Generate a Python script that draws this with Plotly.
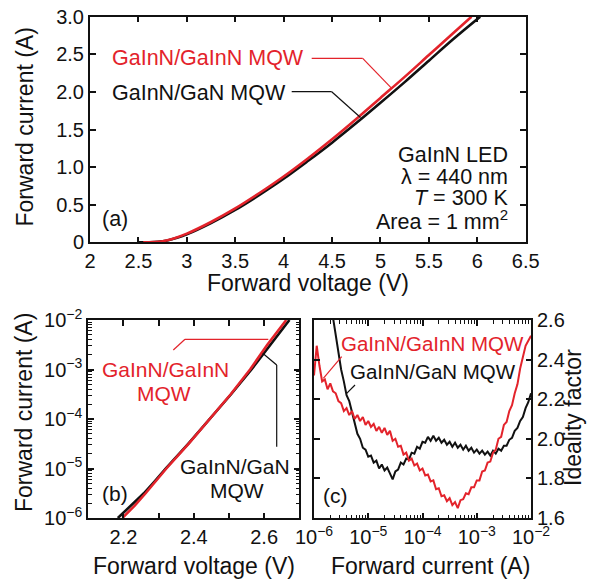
import plotly.graph_objects as go

# ---------------- data ----------------
# (a) linear I-V
v_red_a = [2.55, 2.65, 2.75, 2.85, 3.00, 3.25, 3.50, 3.75, 4.00, 4.25, 4.50, 4.75, 5.00, 5.25, 5.50, 5.75, 5.94]
i_red_a = [0.000, 0.003, 0.015, 0.045, 0.115, 0.27, 0.45, 0.655, 0.875, 1.115, 1.37, 1.64, 1.92, 2.20, 2.49, 2.78, 3.00]
v_blk_a = [2.50, 2.60, 2.70, 2.80, 2.90, 3.00, 3.25, 3.50, 3.75, 4.00, 4.25, 4.50, 4.75, 5.00, 5.25, 5.50, 5.75, 6.03]
i_blk_a = [0.000, 0.001, 0.006, 0.025, 0.06, 0.105, 0.255, 0.43, 0.63, 0.845, 1.08, 1.325, 1.585, 1.855, 2.13, 2.415, 2.70, 3.00]

# (b) semilog I-V
i_b = [1e-6, 1.78e-6, 3.16e-6, 5.62e-6, 1e-5, 3.16e-5, 1e-4, 3.16e-4, 1e-3, 3.16e-3, 1e-2]
v_red_b = [2.197, 2.232, 2.263, 2.293, 2.322, 2.385, 2.446, 2.505, 2.560, 2.609, 2.663]
v_blk_b = [2.184, 2.222, 2.258, 2.290, 2.320, 2.384, 2.446, 2.506, 2.564, 2.617, 2.672]

# (c) ideality factor vs current (log10 of current)
log_i_red_c = [-6.00, -5.95, -5.90, -5.85, -5.80, -5.75, -5.70, -5.65, -5.60, -5.55,
               -5.50, -5.45, -5.40, -5.35, -5.30, -5.25, -5.20, -5.15, -5.10, -5.05,
               -5.00, -4.95, -4.90, -4.85, -4.80, -4.75, -4.70, -4.65, -4.60, -4.55,
               -4.50, -4.45, -4.40, -4.35, -4.30, -4.25, -4.20, -4.15, -4.10, -4.05,
               -4.00, -3.95, -3.90, -3.85, -3.80, -3.75, -3.70, -3.65, -3.60, -3.55,
               -3.50, -3.45, -3.40, -3.35, -3.30, -3.25, -3.20, -3.15, -3.10, -3.05,
               -3.00, -2.95, -2.90, -2.85, -2.80, -2.75, -2.70, -2.65, -2.60, -2.55,
               -2.50, -2.45, -2.40, -2.35, -2.30, -2.25, -2.20, -2.15, -2.10, -2.05, -2.00]
n_red_c = [2.32, 2.47, 2.37, 2.29, 2.30, 2.25, 2.28, 2.24, 2.23, 2.19,
           2.18, 2.14, 2.155, 2.12, 2.14, 2.10, 2.12, 2.09, 2.11, 2.07,
           2.09, 2.06, 2.075, 2.04, 2.06, 2.03, 2.055, 2.02, 2.04, 1.99,
           2.00, 1.96, 1.965, 1.92, 1.93, 1.89, 1.90, 1.865, 1.875, 1.84,
           1.85, 1.815, 1.82, 1.785, 1.79, 1.745, 1.75, 1.71, 1.715, 1.685,
           1.70, 1.665, 1.68, 1.65, 1.69, 1.695, 1.725, 1.72, 1.755, 1.755,
           1.79, 1.79, 1.835, 1.84, 1.88, 1.885, 1.93, 1.945, 2.00, 2.01,
           2.07, 2.085, 2.14, 2.17, 2.23, 2.275, 2.355, 2.415, 2.47, 2.495, 2.52]
log_i_blk_c = [-5.70, -5.65, -5.60, -5.55,
               -5.50, -5.45, -5.40, -5.35, -5.30, -5.25, -5.20, -5.15, -5.10, -5.05,
               -5.00, -4.95, -4.90, -4.85, -4.80, -4.75, -4.70, -4.65, -4.60, -4.55,
               -4.50, -4.45, -4.40, -4.35, -4.30, -4.25, -4.20, -4.15, -4.10, -4.05,
               -4.00, -3.95, -3.90, -3.85, -3.80, -3.75, -3.70, -3.65, -3.60, -3.55,
               -3.50, -3.45, -3.40, -3.35, -3.30, -3.25, -3.20, -3.15, -3.10, -3.05,
               -3.00, -2.95, -2.90, -2.85, -2.80, -2.75, -2.70, -2.65, -2.60, -2.55,
               -2.50, -2.45, -2.40, -2.35, -2.30, -2.25, -2.20, -2.15, -2.10, -2.05, -2.00]
n_blk_c = [2.70, 2.61, 2.52, 2.445,
           2.35, 2.29, 2.22, 2.19, 2.13, 2.085, 2.025, 2.00, 1.955, 1.945,
           1.91, 1.915, 1.88, 1.89, 1.85, 1.87, 1.84, 1.855, 1.82, 1.795,
           1.835, 1.845, 1.88, 1.87, 1.90, 1.895, 1.93, 1.925, 1.96, 1.95,
           1.985, 1.98, 2.01, 1.99, 2.015, 1.99, 2.005, 1.98, 1.995, 1.97,
           1.985, 1.96, 1.98, 1.955, 1.97, 1.945, 1.965, 1.94, 1.955, 1.93,
           1.945, 1.925, 1.94, 1.92, 1.935, 1.915, 1.94, 1.925, 1.95, 1.94,
           1.965, 1.965, 1.995, 2.005, 2.04, 2.055, 2.09, 2.11, 2.155, 2.185, 2.23]

tick_a_x = [2, 2.5, 3, 3.5, 4, 4.5, 5, 5.5, 6, 6.5]
tick_a_x_text = ["2", "2.5", "3", "3.5", "4", "4.5", "5", "5.5", "6", "6.5"]
tick_a_y = [0, 0.5, 1.0, 1.5, 2.0, 2.5, 3.0]
tick_a_y_text = ["0", "0.5", "1.0", "1.5", "2.0", "2.5", "3.0"]
tick_b_x = [2.2, 2.4, 2.6]
tick_b_x_text = ["2.2", "2.4", "2.6"]
tick_b_x_minor = [2.1, 2.3, 2.5, 2.7]
tick_log = [1e-6, 1e-5, 1e-4, 1e-3, 1e-2]
tick_log_text = ["10<sup>\u22126</sup>", "10<sup>\u22125</sup>", "10<sup>\u22124</sup>",
                 "10<sup>\u22123</sup>", "10<sup>\u22122</sup>"]
tick_log_minor = [k * 10.0 ** e for e in (-6, -5, -4, -3) for k in range(2, 10)]
tick_c_y = [1.6, 1.8, 2.0, 2.2, 2.4, 2.6]
tick_c_y_text = ["1.6", "1.8", "2.0", "2.2", "2.4", "2.6"]

RED = "#e3232b"
BLK = "#111111"
FONT = "Liberation Sans, Arial, sans-serif"
PAGE_W, PAGE_H = 595, 580
OFF = 8  # page body margin
W, H = PAGE_W - OFF, PAGE_H - OFF


def px(x):
    return (x - OFF) / W


def py(y):
    return 1 - (y - OFF) / H


fig = go.Figure()
fig.add_trace(go.Scatter(x=v_blk_a, y=i_blk_a, mode="lines", line=dict(color=BLK, width=2.6),
                         xaxis="x", yaxis="y", line_shape="spline"))
fig.add_trace(go.Scatter(x=v_red_a, y=i_red_a, mode="lines", line=dict(color=RED, width=2.6),
                         xaxis="x", yaxis="y", line_shape="spline"))
fig.add_trace(go.Scatter(x=v_blk_b, y=i_b, mode="lines", line=dict(color=BLK, width=2.6),
                         xaxis="x2", yaxis="y2"))
fig.add_trace(go.Scatter(x=v_red_b, y=i_b, mode="lines", line=dict(color=RED, width=2.6),
                         xaxis="x2", yaxis="y2"))
fig.add_trace(go.Scatter(x=[10 ** v for v in log_i_blk_c], y=n_blk_c, mode="lines",
                         line=dict(color=BLK, width=2), xaxis="x3", yaxis="y3"))
fig.add_trace(go.Scatter(x=[10 ** v for v in log_i_red_c], y=n_red_c, mode="lines",
                         line=dict(color=RED, width=2), xaxis="x3", yaxis="y3"))

tickfont = dict(family=FONT, size=20, color="#111")
common = dict(showline=True, linewidth=2, linecolor="#111", mirror="ticks", ticks="inside",
              ticklen=5.5, tickwidth=1.5, tickcolor="#111", showgrid=False, zeroline=False,
              tickfont=tickfont, fixedrange=True, automargin=False, ticklabeloverflow="allow")
minor_log = dict(tickmode="array", tickvals=tick_log_minor, ticks="inside", ticklen=3.5,
                 tickwidth=1, tickcolor="#111", showgrid=False)

fig.update_layout(
    width=W, height=H, margin=dict(l=0, r=0, t=0, b=0), autosize=False,
    paper_bgcolor="white", plot_bgcolor="white", showlegend=False,
    xaxis=dict(domain=[px(90), px(525.7)], range=[2, 6.5], tickvals=tick_a_x, ticktext=tick_a_x_text,
               anchor="y", **common),
    yaxis=dict(domain=[py(242.3), py(16.7)], range=[0, 3], tickvals=tick_a_y, ticktext=tick_a_y_text,
               anchor="x", **common),
    xaxis2=dict(domain=[px(88.3), px(299.3)], range=[2.1, 2.7], tickvals=tick_b_x, ticktext=tick_b_x_text,
                minor=dict(tickmode="array", tickvals=tick_b_x_minor, ticks="inside", ticklen=5.5,
                           tickwidth=1.5, tickcolor="#111"),
                anchor="y2", **common),
    yaxis2=dict(domain=[py(518), py(320)], type="log", range=[-6, -2], tickvals=tick_log,
                ticktext=tick_log_text, minor=minor_log, anchor="x2", **common),
    xaxis3=dict(domain=[px(314), px(531)], type="log", range=[-6, -2], tickvals=tick_log,
                ticktext=tick_log_text, minor=minor_log, anchor="y3", **common),
    yaxis3=dict(domain=[py(518), py(320)], range=[1.6, 2.6], tickvals=tick_c_y, ticktext=tick_c_y_text,
                side="right", anchor="x3", **common),
)

shapes = []


def seg(x0, y0, x1, y1, color, width=1.2):
    shapes.append(dict(type="line", xref="paper", yref="paper", x0=px(x0), y0=py(y0), x1=px(x1), y1=py(y1),
                       line=dict(color=color, width=width), layer="above"))


# (a) leader lines
seg(311.7, 58.3, 362.7, 58.3, RED)
seg(362.7, 58.3, 391.7, 88.3, RED)
seg(346, 104.5, 358, 115.2, "white", 4)
seg(291.7, 91.7, 331.7, 91.7, BLK)
seg(331.7, 91.7, 360.5, 117.5, BLK)
# (b) leader lines
seg(173.3, 350, 185, 339.3, RED)
seg(185, 339.3, 268.3, 339.3, RED)
seg(262.7, 353.3, 276.7, 365, BLK)
seg(276.7, 365, 276.7, 446.7, BLK)
# (c) leader lines
seg(323.3, 378.3, 341.7, 356.7, RED)
seg(346.7, 393.3, 355, 385, BLK)
fig.update_layout(shapes=shapes)

ann = []


def txt(x, y, s, color=BLK, size=20, xanchor="center", angle=0):
    ann.append(dict(x=px(x), y=py(y), xref="paper", yref="paper", text=s, showarrow=False,
                    xanchor=xanchor, yanchor="middle", textangle=angle, borderpad=0,
                    font=dict(family=FONT, size=size, color=color)))


# panel (a)
txt(110.7, 58.3, "GaInN/GaInN MQW", RED, 21.5, "left")
txt(110.7, 93.3, "GaInN/GaN MQW", BLK, 21.5, "left")
txt(508.5, 155, "GaInN LED", BLK, 21.5, "right")
txt(508.5, 176.7, "\u03bb = 440 nm", BLK, 21.5, "right")
txt(508.5, 198.3, "<i>T</i> = 300 K", BLK, 21.5, "right")
txt(508.5, 220, "Area = 1 mm<sup>2</sup>", BLK, 21.5, "right")
txt(115, 219, "(a)", BLK, 21.5)
# panel (b)
txt(165, 369.3, "GaInN/GaInN", RED, 21)
txt(164, 393.3, "MQW", RED, 21)
txt(235, 466, "GaInN/GaN", BLK, 21)
txt(236.7, 490, "MQW", BLK, 21)
txt(115, 493.3, "(b)", BLK, 21)
# panel (c)
txt(432, 343.3, "GaInN/GaInN MQW", RED, 20.5)
txt(433.3, 371.7, "GaInN/GaN MQW", BLK, 20.5)
txt(335, 495, "(c)", BLK, 21)
# axis titles
txt(24, 127.5, "Forward current (A)", BLK, 23, angle=-90)
txt(307.8, 283, "Forward voltage (V)", BLK, 23)
txt(24, 413, "Forward current (A)", BLK, 23, angle=-90)
txt(194, 566, "Forward voltage (V)", BLK, 23)
txt(430, 566, "Forward current (A)", BLK, 23)
txt(573, 418, "Ideality factor", BLK, 23, angle=-90)
fig.update_layout(annotations=ann)

fig.write_html("out.html")
